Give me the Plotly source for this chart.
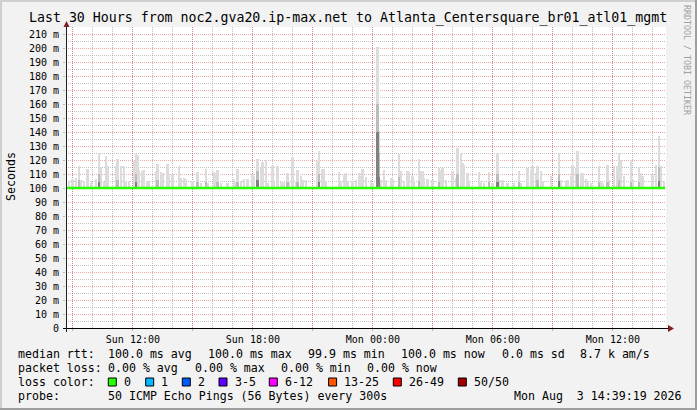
import plotly.graph_objects as go
from datetime import datetime, timedelta

# ---------------- data ----------------
window_start = "2026-08-02 08:39:19"
window_end = "2026-08-03 14:39:19"

# smoke (ping spread): minutes after window start, top of smoke in ms
smoke_min = [10, 20, 30, 40, 45, 55, 65, 75, 90, 100, 105, 115, 120, 125, 150, 155, 165, 175, 180, 190,
             205, 210, 215, 220, 230, 235, 245, 250, 270, 275, 285, 290, 305, 310, 320, 340, 345, 355, 360, 380,
             395, 405, 420, 425, 445, 450, 455, 465, 485, 505, 510, 515, 525, 535, 545, 560, 565, 575, 585, 590,
             600, 605, 620, 625, 635, 645, 650, 655, 665, 670, 680, 690, 695, 705, 710, 720, 755, 760, 770, 775,
             780, 820, 825, 835, 840, 845, 860, 870, 880, 885, 890, 900, 915, 920, 935, 940, 945, 955, 960, 975,
             980, 1000, 1005, 1015, 1025, 1030, 1040, 1045, 1060, 1065, 1070, 1075, 1085, 1100, 1120, 1125, 1130, 1140, 1160, 1170,
             1175, 1185, 1190, 1195, 1205, 1210, 1240, 1245, 1255, 1270, 1280, 1295, 1300, 1310, 1325, 1345, 1360, 1365, 1385, 1395,
             1400, 1410, 1415, 1425, 1430, 1455, 1480, 1485, 1500, 1505, 1515, 1520, 1530, 1535, 1545, 1550, 1560, 1565, 1575, 1600,
             1605, 1610, 1625, 1630, 1645, 1655, 1660, 1665, 1675, 1695, 1700, 1720, 1725, 1730, 1760, 1770, 1780, 1785, 1795]
smoke_max = [105.2, 106.4, 107.0, 116.0, 106.0, 105.0, 113.5, 105.0, 106.6, 125.0, 115.0, 104.5, 123.0, 115.5, 115.5, 120.7, 115.5, 116.0, 104.7, 105.2,
             119.1, 124.3, 123.8, 113.0, 112.0, 113.0, 104.7, 104.7, 112.0, 117.0, 111.2, 110.7, 117.0, 110.2, 110.2, 116.0, 107.0, 107.0, 106.4, 105.2,
             111.2, 103.5, 113.8, 103.5, 111.6, 110.7, 112.6, 103.5, 103.6, 106.4, 104.0, 113.8, 104.7, 106.4, 106.4, 109.8, 108.3, 121.0, 114.3, 118.6,
             120.2, 103.5, 115.5, 104.0, 116.0, 104.0, 103.5, 104.0, 111.0, 104.0, 121.9, 104.0, 113.0, 108.3, 106.0, 106.0, 119.1, 126.6, 113.5, 113.5,
             104.7, 111.2, 104.4, 109.6, 110.7, 104.7, 105.2, 106.0, 111.0, 108.8, 113.5, 107.7, 106.0, 103.5, 201.0, 140.4, 106.0, 112.6, 106.0, 107.1,
             106.0, 124.0, 111.9, 104.7, 111.9, 111.2, 108.8, 104.7, 121.0, 111.9, 112.4, 107.1, 106.4, 106.0, 114.3, 113.1, 114.3, 106.0, 111.9, 107.1,
             128.6, 125.0, 117.9, 116.7, 110.7, 104.7, 111.2, 104.7, 103.5, 111.2, 103.5, 125.0, 106.0, 106.0, 103.5, 103.5, 112.4, 103.5, 114.3, 113.1,
             116.0, 110.7, 116.0, 112.4, 104.7, 108.8, 125.0, 106.0, 105.2, 106.0, 108.3, 116.7, 114.3, 126.2, 110.7, 110.7, 106.4, 104.7, 103.5, 116.0,
             104.7, 103.5, 116.7, 106.0, 115.5, 115.5, 125.0, 120.2, 108.3, 119.8, 106.0, 115.0, 110.7, 108.3, 109.9, 116.7, 137.4, 115.5, 104.7]

# denser part of the smoke (darker shading)
smoke_mid_min = [40, 100, 155, 210, 275, 395, 420, 455, 515, 575, 665, 695, 760, 935, 940, 1000, 1060, 1120, 1175, 1270,
                 1295, 1360, 1415, 1480, 1535, 1600, 1625, 1660, 1695, 1720, 1780]
smoke_mid = [106, 110, 106, 110, 106, 104, 104, 104, 104, 112, 104, 104, 110, 160, 125, 108, 105, 104, 110, 104,
             110, 104, 106, 110, 110, 104, 104, 106, 104, 104, 115]
smoke_low_min = [100, 210, 575, 760, 935, 940, 1295, 1480, 1780]
smoke_low = [104, 104, 106, 104, 140, 108, 104, 105, 105]

# median rtt (loss 0 -> green)
median_min = [0, 1797]
median_ms = [100.0, 100.0]

y_ticks = list(range(0, 220, 10))
y_labels = ["0"] + [f"{v} m" for v in y_ticks[1:]]
y_minor = list(range(5, 220, 10))

x_ticks = ["2026-08-02 09:00", "2026-08-02 12:00", "2026-08-02 15:00", "2026-08-02 18:00", "2026-08-02 21:00",
           "2026-08-03 00:00", "2026-08-03 03:00", "2026-08-03 06:00", "2026-08-03 09:00", "2026-08-03 12:00"]
x_labels = ["", "Sun 12:00", "", "Sun 18:00", "", "Mon 00:00", "", "Mon 06:00", "", "Mon 12:00"]

stats_rtt = ["100.0 ms avg", "100.0 ms max", "99.9 ms min", "100.0 ms now", "0.0 ms sd", "8.7 k am/s"]
stats_loss = ["0.00 % avg", "0.00 % max", "0.00 % min", "0.00 % now"]
loss_labels = ["0", "1", "2", "3-5", "6-12", "13-25", "26-49", "50/50"]
loss_colors = ["#26ff00", "#00b8ff", "#0059ff", "#5e00ff", "#ff00ff", "#ff5500", "#ff0000", "#a00000"]
probe_text = "50 ICMP Echo Pings (56 Bytes) every 300s"
stamp_text = "Mon Aug  3 14:39:19 2026"
title_text = "Last 30 Hours from noc2.gva20.ip-max.net to Atlanta_Centersquare_br01_atl01_mgmt"

# ---------------- build ----------------
t0 = datetime.strptime(window_start, "%Y-%m-%d %H:%M:%S")
def tm(mins):
    return [t0 + timedelta(minutes=m) for m in mins]

BIN_MS = 5 * 60 * 1000
FONT = "DejaVu Sans Mono"

fig = go.Figure()
fig.add_trace(go.Bar(x=tm(smoke_min), y=[v - 100 for v in smoke_max], base=100, width=BIN_MS,
                     marker=dict(color="#dcdcdc", line=dict(width=0)), hoverinfo="skip"))
fig.add_trace(go.Bar(x=tm(smoke_mid_min), y=[v - 100 for v in smoke_mid], base=100, width=BIN_MS,
                     marker=dict(color="#bcbcbc", line=dict(width=0)), hoverinfo="skip"))
fig.add_trace(go.Bar(x=tm(smoke_low_min), y=[v - 100 for v in smoke_low], base=100, width=BIN_MS,
                     marker=dict(color="#808080", line=dict(width=0)), hoverinfo="skip"))
fig.add_trace(go.Scatter(x=tm(median_min), y=median_ms, mode="lines",
                         line=dict(color="#26ff00", width=2.6), hoverinfo="skip"))

# plot area geometry (pixels)
L, R, T, B = 66, 31, 27, 82
W, H = 697, 410
PW, PH = W - L - R, H - T - B
def PX(x): return (x - L) / PW
def PY(y): return (H - B - y) / PH

MAJ = "rgba(222,79,79,0.5)"
MIN = "rgba(143,143,143,0.55)"

fig.update_layout(
    width=W, height=H, autosize=False,
    margin=dict(l=L, r=R, t=T, b=B, pad=0),
    paper_bgcolor="#f2f2f2", plot_bgcolor="#ffffff",
    barmode="overlay", bargap=0, showlegend=False,
    font=dict(family=FONT, size=10, color="#000000"),
    xaxis=dict(range=[window_start, window_end], type="date", automargin=False,
               tickmode="array", tickvals=x_ticks, ticktext=x_labels,
               showgrid=True, gridcolor=MAJ, griddash="1px,1px", gridwidth=1,
               ticks="outside", ticklen=2, tickcolor=MAJ, tickfont=dict(family=FONT, size=10),
               minor=dict(dtick=3600000, tick0="2026-08-02 00:00", showgrid=True, gridcolor=MIN,
                          griddash="1px,1px", gridwidth=1),
               showline=False, zeroline=False, fixedrange=True),
    yaxis=dict(range=[0, 215], automargin=False, tickmode="array", tickvals=y_ticks, ticktext=y_labels,
               showgrid=True, gridcolor=MAJ, griddash="1px,1px", gridwidth=1,
               ticks="outside", ticklen=2, tickcolor=MIN, tickfont=dict(family=FONT, size=10),
               ticklabelstandoff=2,
               minor=dict(tickmode="array", tickvals=y_minor, showgrid=True, gridcolor=MIN,
                          griddash="1px,1px", gridwidth=1),
               showline=False, zeroline=False, fixedrange=True),
)

shapes = []
# axes lines + arrows
shapes.append(dict(type="line", xref="paper", yref="paper", x0=PX(63), x1=PX(669), y0=PY(328.5), y1=PY(328.5),
                   line=dict(color="#000000", width=1)))
shapes.append(dict(type="line", xref="paper", yref="paper", x0=PX(66.5), x1=PX(66.5), y0=PY(332), y1=PY(26),
                   line=dict(color="#1f1f1f", width=1)))
shapes.append(dict(type="path", xref="paper", yref="paper",
                   path=f"M {PX(668)} {PY(325)} L {PX(674)} {PY(328.5)} L {PX(668)} {PY(332)} Z",
                   fillcolor="#801f1f", line=dict(width=0)))
shapes.append(dict(type="path", xref="paper", yref="paper",
                   path=f"M {PX(63.5)} {PY(27)} L {PX(66.5)} {PY(21)} L {PX(69.5)} {PY(27)} Z",
                   fillcolor="#801f1f", line=dict(width=0)))
# frame
shapes.append(dict(type="rect", xref="paper", yref="paper", x0=PX(0), x1=PX(697), y0=PY(0), y1=PY(2),
                   fillcolor="#cfcfcf", line=dict(width=0), layer="below"))
shapes.append(dict(type="rect", xref="paper", yref="paper", x0=PX(0), x1=PX(2), y0=PY(0), y1=PY(410),
                   fillcolor="#cfcfcf", line=dict(width=0), layer="below"))
shapes.append(dict(type="rect", xref="paper", yref="paper", x0=PX(695), x1=PX(697), y0=PY(0), y1=PY(410),
                   fillcolor="#9e9e9e", line=dict(width=0), layer="below"))
shapes.append(dict(type="rect", xref="paper", yref="paper", x0=PX(0), x1=PX(697), y0=PY(408), y1=PY(410),
                   fillcolor="#9e9e9e", line=dict(width=0), layer="below"))

anns = []
def text(x, y, s, size=11.6, anchor="left", color="#000000", angle=0):
    anns.append(dict(xref="paper", yref="paper", x=PX(x), y=PY(y), text=s.replace(" ", "\u00a0"),
                     showarrow=False, xanchor=anchor, yanchor="middle", borderpad=0,
                     textangle=angle, font=dict(family=FONT, size=size, color=color)))

text(347.5, 18.5, title_text, size=13.25, anchor="center")
text(11, 177, "Seconds", size=11.6, anchor="center", angle=-90)
text(687, 60, "RRDTOOL / TOBI OETIKER", size=8.3, anchor="center", color="#a0a0a0", angle=90)

rows = [354, 368, 382, 396]
text(16.7, rows[0], "median rtt:")
for s, x in zip(stats_rtt, [107.3, 207.3, 307, 400, 501, 579]):
    text(x, rows[0], s)
text(16.7, rows[1], "packet loss:")
for s, x in zip(stats_loss, [107.3, 194, 280, 366]):
    text(x, rows[1], s)
text(16.7, rows[2], "loss color:")
box_x = [108.3, 145.7, 182.3, 219, 269.3, 328.6, 393.3, 458.3]
for lab, col, bx in zip(loss_labels, loss_colors, box_x):
    shapes.append(dict(type="rect", xref="paper", yref="paper", x0=PX(bx), x1=PX(bx + 8),
                       y0=PY(rows[2] - 4), y1=PY(rows[2] + 4),
                       fillcolor=col, line=dict(color="#000000", width=1)))
    text(bx + 14.7, rows[2], lab)
text(16.7, rows[3], "probe:")
text(107.3, rows[3], probe_text)
text(513.3, rows[3], stamp_text)

fig.update_layout(shapes=shapes, annotations=anns)
fig.write_html("out.html", config={"displayModeBar": False},
               post_script="document.body.style.margin='0';document.body.style.padding='0';"
                           "document.body.style.overflow='hidden';")
